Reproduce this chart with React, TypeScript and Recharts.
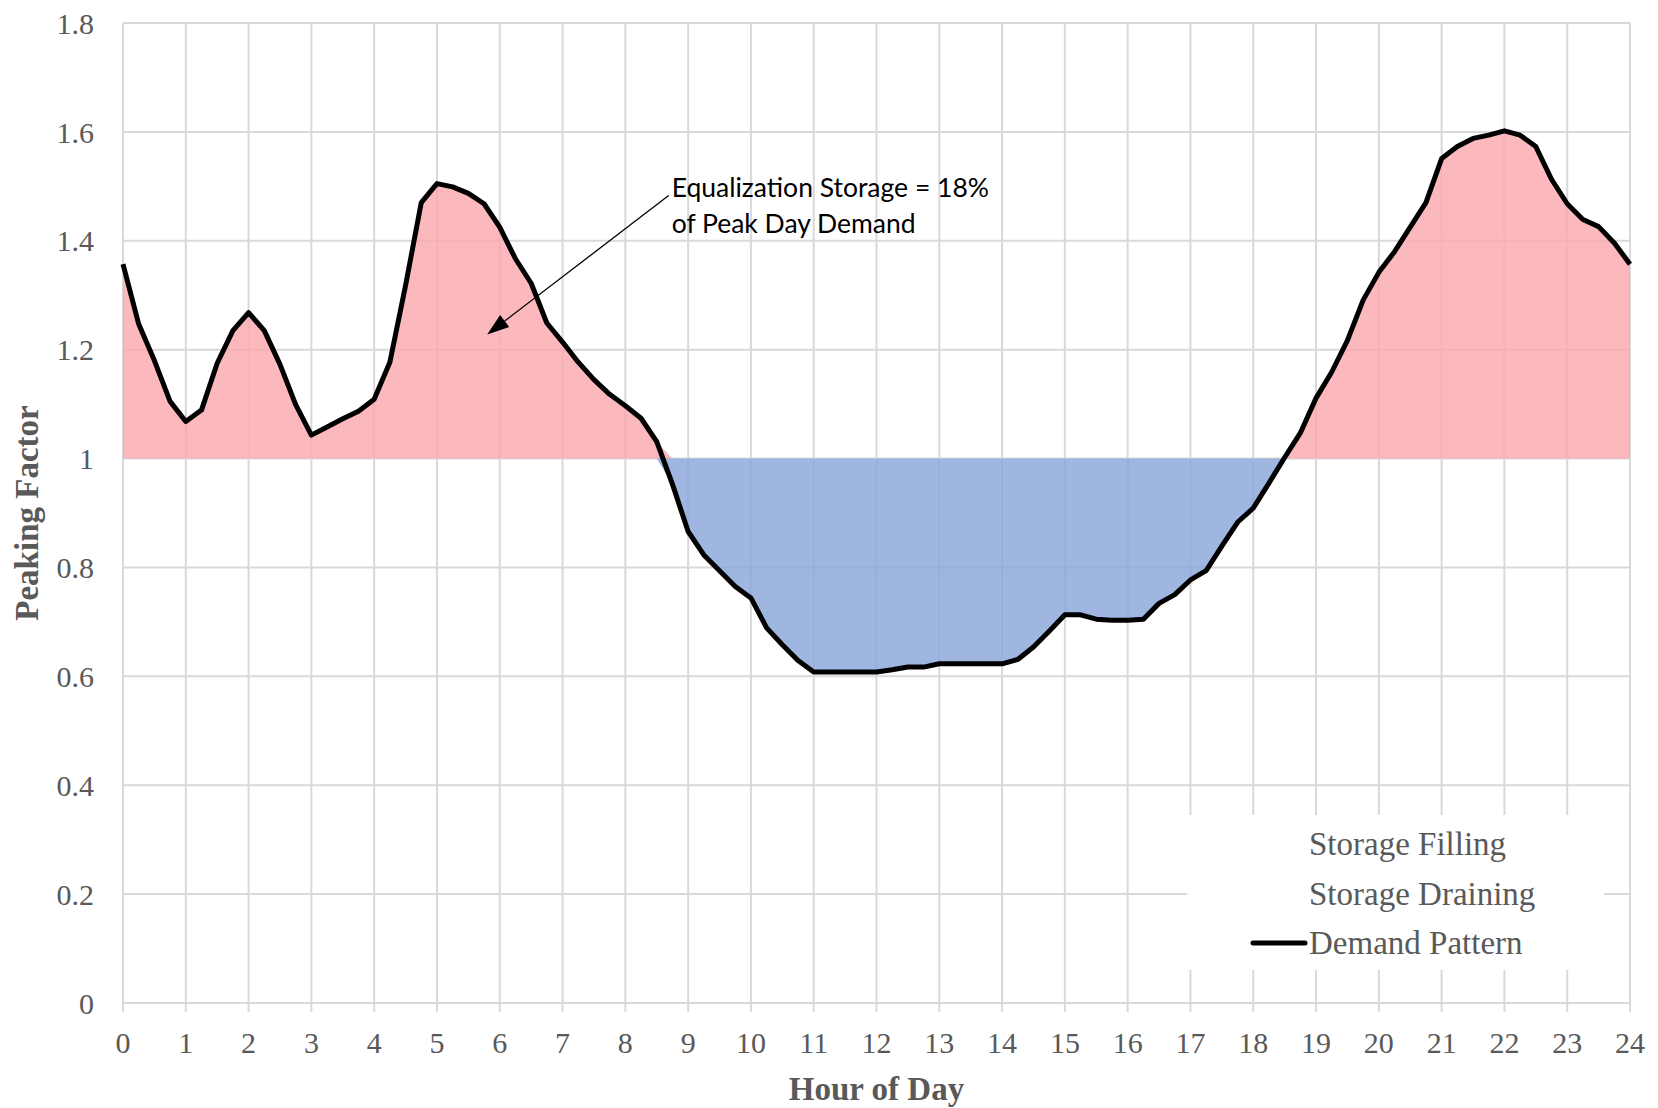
import React from 'react';
import {
  ComposedChart,
  Area,
  Line,
  XAxis,
  YAxis,
  CartesianGrid,
  Legend,
  ReferenceLine,
} from 'recharts';

const hours = [
  0, 0.25, 0.5, 0.75, 1, 1.25, 1.5, 1.75, 2, 2.25, 2.5, 2.75,
  3, 3.25, 3.5, 3.75, 4, 4.25, 4.5, 4.75, 5, 5.25, 5.5, 5.75,
  6, 6.25, 6.5, 6.75, 7, 7.25, 7.5, 7.75, 8, 8.25, 8.5, 8.75,
  9, 9.25, 9.5, 9.75, 10, 10.25, 10.5, 10.75, 11, 11.25, 11.5, 11.75,
  12, 12.25, 12.5, 12.75, 13, 13.25, 13.5, 13.75, 14, 14.25, 14.5, 14.75,
  15, 15.25, 15.5, 15.75, 16, 16.25, 16.5, 16.75, 17, 17.25, 17.5, 17.75,
  18, 18.25, 18.5, 18.75, 19, 19.25, 19.5, 19.75, 20, 20.25, 20.5, 20.75,
  21, 21.25, 21.5, 21.75, 22, 22.25, 22.5, 22.75, 23, 23.25, 23.5, 23.75,
  24,
];

const peakingFactor = [
  1.357, 1.247, 1.18, 1.105, 1.068, 1.089, 1.175, 1.235, 1.268, 1.235, 1.173, 1.099,
  1.043, 1.058, 1.073, 1.087, 1.109, 1.177, 1.318, 1.47, 1.505, 1.499, 1.487, 1.468,
  1.425, 1.367, 1.322, 1.249, 1.214, 1.177, 1.145, 1.118, 1.097, 1.074, 1.031, 0.953,
  0.866, 0.823, 0.794, 0.765, 0.744, 0.689, 0.658, 0.629, 0.608, 0.608, 0.608, 0.608,
  0.608, 0.612, 0.617, 0.617, 0.623, 0.623, 0.623, 0.623, 0.623, 0.631, 0.654, 0.683,
  0.713, 0.713, 0.705, 0.703, 0.703, 0.705, 0.734, 0.75, 0.777, 0.794, 0.839, 0.883,
  0.909, 0.955, 1.002, 1.047, 1.111, 1.159, 1.217, 1.291, 1.342, 1.38, 1.425, 1.47,
  1.551, 1.573, 1.588, 1.594, 1.602, 1.594, 1.573, 1.513, 1.468, 1.439, 1.426, 1.396,
  1.357,
];

const xTicks = [0, 1, 2, 3, 4, 5, 6, 7, 8, 9, 10, 11, 12, 13, 14, 15, 16, 17, 18, 19, 20, 21, 22, 23, 24];
const yTicks = [0, 0.2, 0.4, 0.6, 0.8, 1, 1.2, 1.4, 1.6, 1.8];
const averageLevel = 1;

const legendLabels = ['Storage Filling', 'Storage Draining', 'Demand Pattern'];
const annotationLines = ['Equalization Storage = 18%', 'of Peak Day Demand'];
const arrowStart = { x: 8.69, y: 1.483 };
const arrowEnd = { x: 5.8, y: 1.228 };

const data = hours.map((h, i) => {
  const v = peakingFactor[i];
  return {
    hour: h,
    pf: v,
    filling: [averageLevel, Math.max(v, averageLevel)],
    draining: [Math.min(v, averageLevel), averageLevel],
  };
});

const GREY = '#595959';
const GRID = '#d9d9d9';
const SERIF = '"Liberation Serif", "DejaVu Serif", serif';

const ArrowShape = (props: any) => {
  const { x1, y1, x2, y2 } = props;
  const ang = Math.atan2(y2 - y1, x2 - x1);
  const len = 22;
  const half = 7.5;
  const bx = x2 - len * Math.cos(ang);
  const by = y2 - len * Math.sin(ang);
  const px = -Math.sin(ang) * half;
  const py = Math.cos(ang) * half;
  return (
    <g>
      <line x1={x1} y1={y1} x2={bx} y2={by} stroke="#000" strokeWidth={1.3} />
      <polygon points={`${x2},${y2} ${bx + px},${by + py} ${bx - px},${by - py}`} fill="#000" />
      <text x={x1 + 3} y={y1 + 1} fontFamily="Lato, 'Open Sans', sans-serif" fontSize={26.5} fill="#000">
        {annotationLines[0]}
      </text>
      <text x={x1 + 3} y={y1 + 37} fontFamily="Lato, 'Open Sans', sans-serif" fontSize={26.5} fill="#000">
        {annotationLines[1]}
      </text>
    </g>
  );
};

const LegendBox = () => (
  <div style={{ position: 'relative', width: 417, height: 155, background: '#fff' }}>
    {legendLabels.map((label, i) => (
      <div
        key={label}
        style={{
          position: 'absolute',
          left: 122,
          top: 29 + i * 49.5 - 20,
          height: 40,
          lineHeight: '40px',
          fontFamily: SERIF,
          fontSize: 33,
          color: GREY,
          whiteSpace: 'nowrap',
        }}
      >
        {label}
      </div>
    ))}
    <svg style={{ position: 'absolute', left: 0, top: 0 }} width={417} height={155}>
      <line x1={66} y1={128} x2={118} y2={128} stroke="#000" strokeWidth={5} strokeLinecap="round" />
    </svg>
  </div>
);

const YLabel = (props: any) => {
  const vb = props.viewBox || {};
  const cx = 27;
  const cy = vb.y + vb.height / 2;
  return (
    <text
      x={cx}
      y={cy}
      transform={`rotate(-90 ${cx} ${cy})`}
      textAnchor="middle"
      dominantBaseline="central"
      fontFamily={SERIF}
      fontWeight="bold"
      fontSize={33}
      fill={GREY}
    >
      Peaking Factor
    </text>
  );
};

const XLabel = (props: any) => {
  const vb = props.viewBox || {};
  const cx = vb.x + vb.width / 2;
  const cy = vb.y + 86;
  return (
    <text
      x={cx}
      y={cy}
      textAnchor="middle"
      dominantBaseline="central"
      fontFamily={SERIF}
      fontWeight="bold"
      fontSize={33}
      fill={GREY}
    >
      Hour of Day
    </text>
  );
};

export default function App() {
  return (
    <div style={{ position: 'absolute', left: 0, top: 0, width: 1658, height: 1108, background: '#fff' }}>
      <ComposedChart
        width={1658}
        height={1108}
        data={data}
        margin={{ top: 23, right: 28, bottom: 0, left: 0 }}
      >
        <CartesianGrid stroke={GRID} strokeWidth={2} />
        <XAxis
          type="number"
          dataKey="hour"
          domain={[0, 24]}
          ticks={xTicks}
          interval={0}
          height={105}
          tickSize={9}
          tickMargin={20}
          stroke={GRID}
          axisLine={{ stroke: GRID, strokeWidth: 2 }}
          tickLine={{ stroke: GRID, strokeWidth: 2 }}
          tick={{ fill: GREY, fontFamily: SERIF, fontSize: 30 }}
          label={{ content: XLabel }}
        />
        <YAxis
          type="number"
          domain={[0, 1.8]}
          ticks={yTicks}
          interval={0}
          width={123}
          axisLine={false}
          tickLine={false}
          tickSize={0}
          tickMargin={29}
          tick={{ fill: GREY, fontFamily: SERIF, fontSize: 30 }}
          tickFormatter={(v: number) => String(v)}
          label={{ content: YLabel }}
        />
        <Area
          type="linear"
          dataKey="filling"
          stroke="none"
          fill="#FBA8AC"
          fillOpacity={0.8}
          isAnimationActive={false}
          activeDot={false}
          legendType="none"
          name="Storage Filling"
        />
        <Area
          type="linear"
          dataKey="draining"
          stroke="none"
          fill="#87A4D8"
          fillOpacity={0.8}
          isAnimationActive={false}
          activeDot={false}
          legendType="none"
          name="Storage Draining"
        />
        <Line
          type="linear"
          dataKey="pf"
          stroke="#000"
          strokeWidth={5}
          strokeLinejoin="round"
          dot={false}
          activeDot={false}
          isAnimationActive={false}
          name="Demand Pattern"
        />
        <ReferenceLine
          segment={[arrowStart, arrowEnd]}
          ifOverflow="visible"
          shape={ArrowShape}
        />
        <Legend
          layout="vertical"
          align="center"
          verticalAlign="middle"
          wrapperStyle={{ left: 1187, top: 815, width: 417, height: 155 }}
          content={() => <LegendBox />}
        />
      </ComposedChart>
    </div>
  );
}
